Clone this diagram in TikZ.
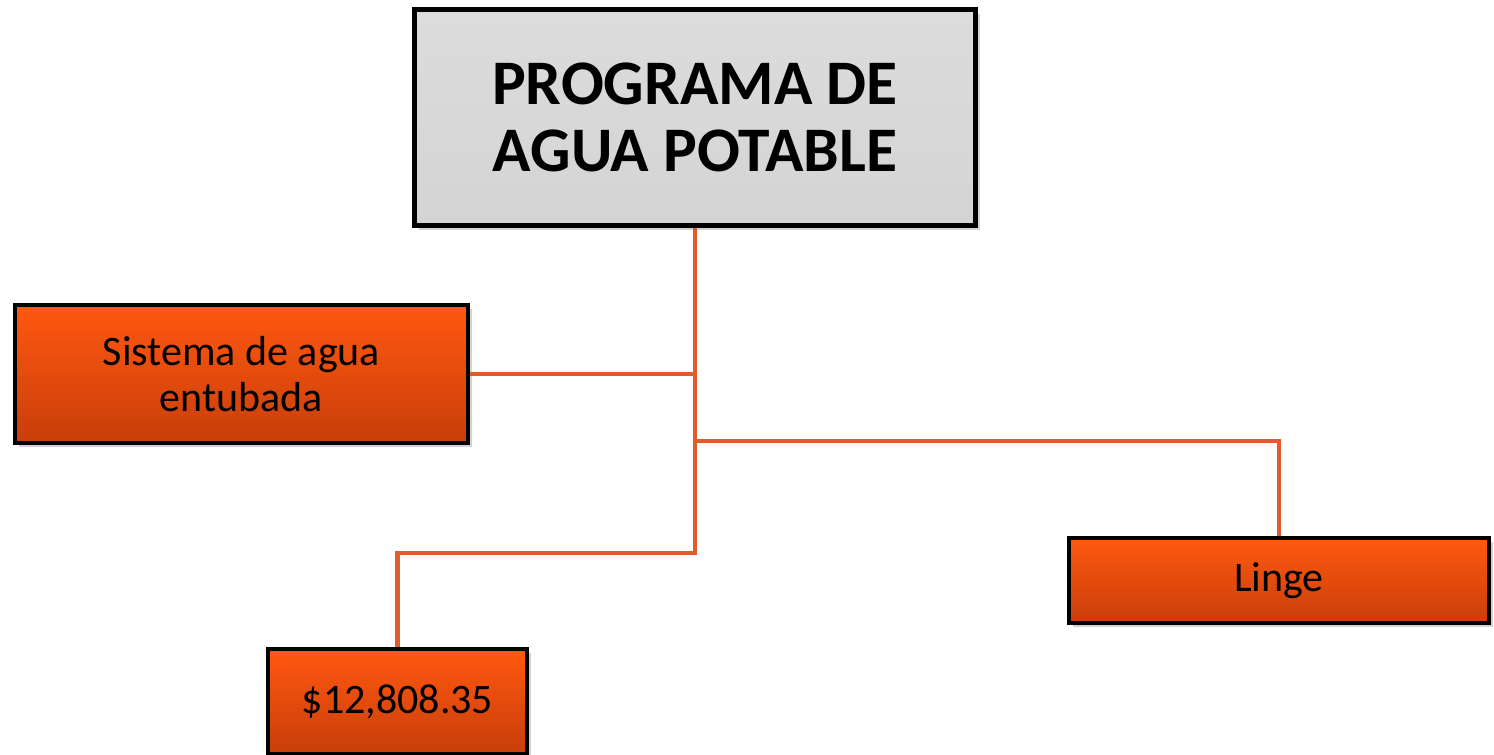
\documentclass[tikz,border=0pt]{standalone}
\usepackage{fontspec}
\setmainfont{Carlito}
\usetikzlibrary{shadows}
\definecolor{orangetop}{RGB}{255,88,16}
\definecolor{orangebot}{RGB}{200,62,10}
\definecolor{graytop}{RGB}{220,220,220}
\definecolor{graybot}{RGB}{212,212,212}
\definecolor{connc}{RGB}{224,92,40}
\tikzset{
  boxbase/.style={draw=black, line width=3pt, inner sep=0pt, align=center,
    drop shadow={shadow xshift=3pt, shadow yshift=-3pt, opacity=0.35}},
  orangebox/.style={boxbase, top color=orangetop, bottom color=orangebot,
    font=\fontsize{31.5pt}{35pt}\selectfont},
  titlebox/.style={boxbase, line width=3.5pt, top color=graytop, bottom color=graybot,
    font=\fontsize{47.6pt}{50pt}\selectfont\bfseries},
  conn/.style={draw=connc, line width=3.3pt}
}
\begin{document}
\begin{tikzpicture}[x=0.75pt,y=-0.75pt]
\useasboundingbox[fill=white] (0,0) rectangle (1494,754);
\node[titlebox, minimum width=561*0.75pt, minimum height=216*0.75pt] (top) at (695,117.5)
  {PROGRAMA DE\\AGUA POTABLE};
\node[orangebox, minimum width=453*0.75pt, minimum height=138*0.75pt] (left) at (241.5,374)
  {Sistema de agua\\entubada};
\node[orangebox, minimum width=259*0.75pt, minimum height=105*0.75pt] (bottom) at (397.5,701.5)
  {\$12,808.35};
\node[orangebox, minimum width=420*0.75pt, minimum height=85*0.75pt] (right) at (1279,580.5)
  {Linge};
\coordinate (j2) at (695,441);
\coordinate (j3) at (695,553);
\draw[conn] (top.south) -- (j3) -| (bottom.north);
\draw[conn] (left.east) -- (left.east -| top.south);
\draw[conn] (j2) -| (right.north);
\end{tikzpicture}
\end{document}
